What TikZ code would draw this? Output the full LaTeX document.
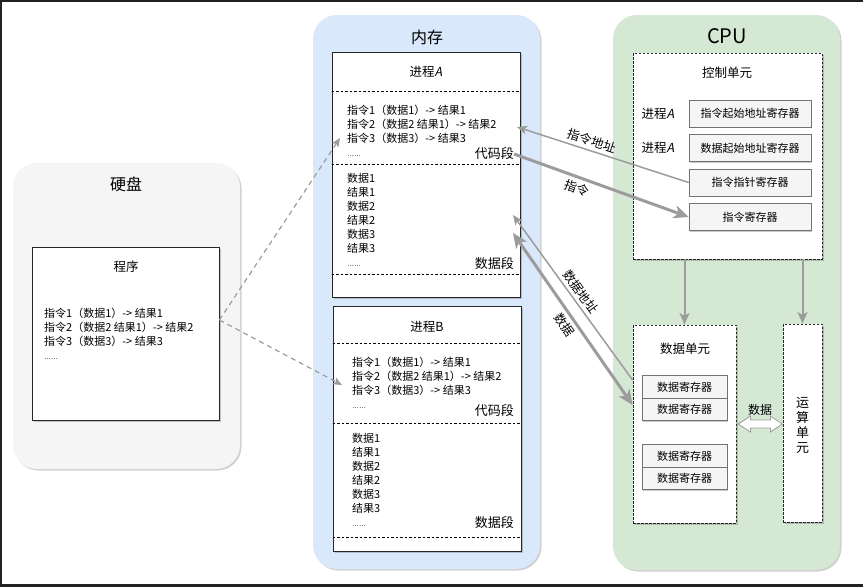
\documentclass[tikz,border=0pt]{standalone}
\usepackage{fontspec}
\setmainfont{Noto Sans CJK SC}[AutoFakeSlant=0.2]
\newfontfamily\dotsfont{Liberation Sans}
\usetikzlibrary{arrows.meta,shadows,positioning,calc}
\definecolor{diskgray}{HTML}{F5F5F5}
\definecolor{memblue}{HTML}{DAE8FC}
\definecolor{cpugreen}{HTML}{D5E8D4}
\definecolor{reggray}{HTML}{F5F5F5}
\definecolor{linkgray}{HTML}{9C9C9C}
\definecolor{framegray}{HTML}{222222}
\newcommand{\dotsrow}{{\dotsfont\fontsize{7}{14}\selectfont ……}}
\tikzset{>={Stealth[length=5pt 3.3,width=4pt 3,inset=1pt 1]}}
\tikzset{flow/.style = {draw=linkgray, line width=1.5pt}}
\tikzset{bigflow/.style = {draw=linkgray, line width=3pt}}

\begin{document}
\begin{tikzpicture}[x=1pt,y=-1pt,
    container/.style={rounded corners=24pt,
        drop shadow={shadow xshift=1.5pt,shadow yshift=-1.5pt,opacity=.3,fill=black!60}},
    box/.style={draw=black!85,line width=.8pt,fill=white,
        drop shadow={shadow xshift=1.5pt,shadow yshift=-1.5pt,opacity=.35,fill=black!60}},
    unitbox/.style={box,dash pattern=on 2.5pt off 1.5pt},
    reg/.style={draw=black!55,line width=.6pt,fill=reggray,
        minimum width=122,minimum height=27,font=\fontsize{11}{13}\selectfont,
        drop shadow={shadow xshift=1.2pt,shadow yshift=-1.2pt,opacity=.35,fill=black!60}},
    dreg/.style={reg,minimum width=85,minimum height=22.5},
    bigtitle/.style={font=\fontsize{16}{18}\selectfont},
    subtitle/.style={font=\fontsize{12.5}{15}\selectfont},
    listing/.style={align=left,anchor=west,inner sep=0pt,font=\fontsize{11}{14}\selectfont},
    seg/.style={anchor=east,inner sep=0pt,font=\fontsize{13}{15}\selectfont},
    segline/.style={line width=.6pt,dash pattern=on 2.5pt off 2pt},
    flowlabel/.style={font=\fontsize{12.5}{15}\selectfont,sloped},
    load/.style={draw=linkgray,line width=1.2pt,dash pattern=on 5pt off 4pt},
    ]
    % Frame
    \fill[framegray] (0,0) rectangle (863,587);
    \fill[white] (2,2) rectangle (863,584);
    \useasboundingbox (0,0) rectangle (863,587);

    % Hard disk
    \node[container,fill=diskgray,minimum width=227,minimum height=306] (disk) at (126.5,316) {};
    \node[bigtitle] (disktitle) at (126,184) {硬盘};
    \node[box,minimum width=187,minimum height=173] (prog) at (125.5,333.5) {};
    \node[subtitle] (progtitle) at (126,267) {程序};
    \node[listing] (progtext) at (44,334) {指令1（数据1）-> 结果1\\指令2（数据2 结果1）-> 结果2\\指令3（数据3）-> 结果3\\\dotsrow};

    % Memory
    \node[container,fill=memblue,minimum width=227,minimum height=554] (mem) at (426.5,292) {};
    \node[bigtitle] (memtitle) at (427,37) {内存};

    % Process A
    \node[box,minimum width=188,minimum height=245] (procA) at (426,174.5) {};
    \node[subtitle] (procAtitle) at (426,72) {进程\textit{A}};
    \foreach \y in {91,164,274}
        \draw[segline] (procA.west |- 0,\y) -- (procA.east |- 0,\y);
    \node[listing] (codeA) at (347,131) {指令1（数据1）-> 结果1\\指令2（数据2 结果1）-> 结果2\\指令3（数据3）-> 结果3\\\dotsrow};
    \node[seg] (codesegA) at (514,154) {代码段};
    \node[listing] (dataA) at (347,220) {数据1\\结果1\\数据2\\结果2\\数据3\\结果3\\\dotsrow};
    \node[seg] (datasegA) at (514,264) {数据段};

    % Process B
    \node[box,minimum width=188,minimum height=245] (procB) at (427,428.5) {};
    \node[subtitle] (procBtitle) at (427,327) {进程B};
    \foreach \y in {343,423,537}
        \draw[segline] (procB.west |- 0,\y) -- (procB.east |- 0,\y);
    \node[listing] (codeB) at (352,383) {指令1（数据1）-> 结果1\\指令2（数据2 结果1）-> 结果2\\指令3（数据3）-> 结果3\\\dotsrow};
    \node[seg] (codesegB) at (514,411) {代码段};
    \node[listing] (dataB) at (352,480) {数据1\\结果1\\数据2\\结果2\\数据3\\结果3\\\dotsrow};
    \node[seg] (datasegB) at (514,523) {数据段};

    % CPU
    \node[container,fill=cpugreen,minimum width=227,minimum height=555] (cpu) at (726.5,292.5) {};
    \node[font=\fontsize{20}{22}\selectfont] (cputitle) at (727,36) {CPU};

    % Control unit
    \node[unitbox,minimum width=189,minimum height=206] (ctrl) at (727.5,156) {};
    \node[subtitle] (ctrltitle) at (727,73) {控制单元};
    \node[reg] (istart) at (750,113.5) {指令起始地址寄存器};
    \node[reg] (dstart) at (750,148) {数据起始地址寄存器};
    \node[reg] (iptr) at (750,182.5) {指令指针寄存器};
    \node[reg] (ireg) at (750,217) {指令寄存器};
    \node[subtitle,left=11pt of istart] (istartproc) {进程\textit{A}};
    \node[subtitle,left=11pt of dstart] (dstartproc) {进程\textit{A}};

    % Data unit
    \node[unitbox,minimum width=103,minimum height=198] (dunit) at (684.5,424) {};
    \node[subtitle] (dunittitle) at (685,349) {数据单元};
    \node[dreg] (dreg1) at (684.5,387) {数据寄存器};
    \node[dreg,below=-.6pt of dreg1] (dreg2) {数据寄存器};
    \node[dreg] (dreg3) at (684.5,456) {数据寄存器};
    \node[dreg,below=-.6pt of dreg3] (dreg4) {数据寄存器};

    % ALU
    \node[unitbox,minimum width=39,minimum height=198] (alu) at (802.5,423) {};
    \node[align=center,font=\fontsize{13}{15}\selectfont] (alutext) at (802.5,425) {运\\算\\单\\元};

    % Control -> units
    \draw[flow,line width=2pt,->] (ctrl.south -| dunit.north) -- (dunit.north);
    \draw[flow,line width=2pt,->] (ctrl.south -| alu.north) -- (alu.north);

    % Data exchange
    \filldraw[draw=linkgray,fill=white,line width=.8pt] ($(dunit.east)+(2,0)$)
        -- ++(12,-8) -- ++(0,4) -- ++(20,0) -- ++(0,-4) -- ++(12,8)
        -- ++(-12,8) -- ++(0,-4) -- ++(-20,0) -- ++(0,4) -- cycle;
    \node[font=\fontsize{12}{14}\selectfont] (dflow) at (760,410) {数据};

    % Memory <-> CPU
    \coordinate (iaddrA) at (517,127);
    \coordinate (daddrA) at (513,215);
    \coordinate (valA) at (513,233);
    \draw[flow,<-] (iaddrA) -- (iptr.west) node[flowlabel,pos=.42,above] {指令地址};
    \draw[bigflow,->] (codesegA.east) -- (ireg.west) node[flowlabel,pos=.38,below] {指令};
    \draw[flow,<-] (daddrA) -- ([yshift=44pt]dunit.west) node[flowlabel,pos=.5,above] {数据地址};
    \draw[bigflow,<->] (valA) -- ([yshift=19pt]dunit.west) node[flowlabel,pos=.5,below] {数据};

    % Loading program
    \coordinate (loadA) at (340,138);
    \coordinate (loadB) at (342,385);
    \draw[load,->] ([yshift=13.5pt]prog.east) -- (loadA);
    \draw[load,->] ([yshift=13.5pt]prog.east) -- (loadB);
\end{tikzpicture}
\end{document}
